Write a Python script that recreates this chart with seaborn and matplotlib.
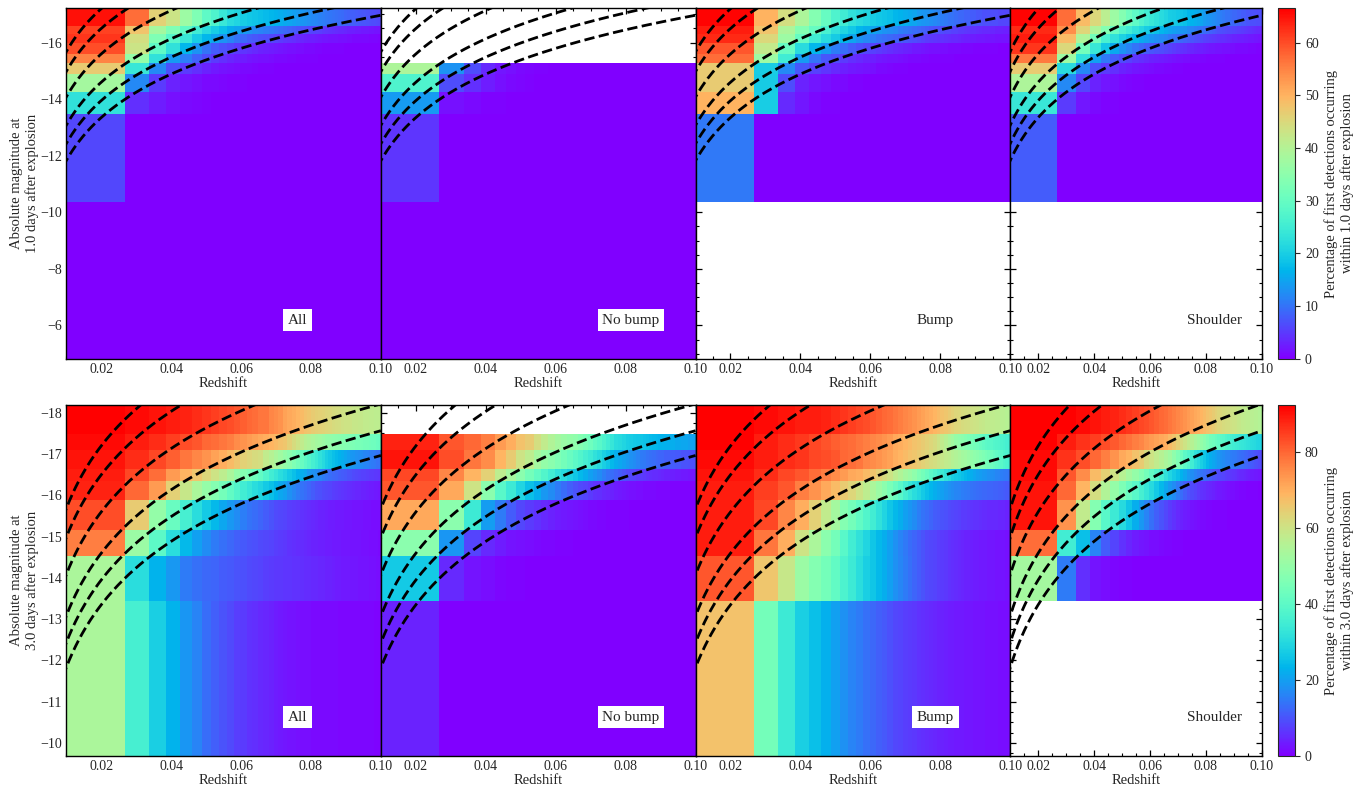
import numpy as np
import pandas as pd
import matplotlib
matplotlib.use("Agg")
import matplotlib.pyplot as plt
import matplotlib.transforms as mtransforms
from matplotlib.ticker import MultipleLocator, FormatStrFormatter
import seaborn as sns

# ---------------------------------------------------------------- data
PANEL_NAMES = ["All", "No bump", "Bump", "Shoulder"]
EPOCHS = [1.0, 3.0]
N_ZBINS = 50            # redshift bins of equal comoving volume, 0 < z < 0.1
Z_MAX = 0.1
LIMIT_MAGS = [17.5, 18.2, 19.1, 20.1, 20.75, 21.35]   # dashed lines (apparent mag)
VMAX = [66.5, 92.3]

# magnitude bin edges (bright -> faint)
MAG_EDGES_1D = [-17.21, -16.58, -16.29, -15.99, -15.61, -15.28, -14.88, -14.25, -13.46, -10.37, -4.82]
MAG_EDGES_3D = [-18.18, -17.49, -17.10, -16.64, -16.34, -15.88, -15.15, -14.54, -13.43, -9.69]

# percentages per magnitude row (bright -> faint), per redshift bin; missing tail = 0, None = no data
TOP_ALL = [
    [65,57,46,43,37,33,29,27,24,22, 21,20,19,18.5,18, 17.5,17,16.5,16,15.5, 15,14.5,14,13.5,13, 12.6,12.2,11.8,11.4,11, 10.6,10.3,10,9.7,9.4, 9.1,8.8,8.5,8.3,8.1, 7.9,7.7,7.5,7.3,7.1, 6.9,6.7,6.5,6.3,6.1],
    [61,48,38,33,29,25,22,20,18,16, 15,14,13,12,11.5, 11,10.5,10,9.5,9, 8.5,8,7.5,7,6.6, 6.2,5.8,5.5,5.2,4.9, 4.6,4.3,4,3.8,3.6, 3.4,3.2,3,2.8,2.6, 2.5,2.4,2.3,2.2,2.1, 2,1.9,1.8,1.7,1.6],
    [62,44,33,28,24,20,17,15,13,11.5, 10,9,8,7.5,7, 6.5,6,5.5,5,4.6, 4.2,3.9,3.6,3.3,3, 2.8,2.6,2.4,2.2,2, 1.9,1.8,1.7,1.6,1.5, 1.4,1.3,1.2,1.1,1, 1,0.9,0.9,0.8,0.8, 0.7,0.7,0.6,0.6,0.5],
    [60,43,29,23,17,13,10,8,7,6, 5,4.5,4,3.5,3, 2.7,2.4,2.1,1.9,1.7, 1.5,1.3,1.2,1.1,1, 0.9,0.8,0.7,0.6,0.5, 0.5,0.4,0.4,0.3,0.3, 0.3,0.2,0.2,0.2,0.2],
    [55,36,23,14,11,8.5,6.5,5,4,3.3, 2.8,2.4,2,1.7,1.5, 1.3,1.1,1,0.9,0.8, 0.7,0.6,0.5,0.5,0.4, 0.4,0.3,0.3,0.2,0.2],
    [47,24,12,7,5,4,3,2.3,1.8,1.5, 1.2,1,0.8,0.6,0.5, 0.4,0.3,0.2],
    [38,12,5,3,2,1.5,1,0.8,0.6,0.5, 0.4,0.3,0.2],
    [23,4,2.5,1.5,1,0.6,0.4,0.2],
    [6],
    [0],
]
TOP_NOBUMP = [
    None, None, None, None, None,
    [39,13,6.5,3.5,2,1.5,1,0.7,0.5,0.3],
    [27,6.5,4,2.5,1.5,1,0.6,0.4],
    [14,1.5,1,0.5,0.3],
    [4.5],
    [0],
]
TOP_BUMP = [
    [66,50,44,39,34,30,27,25,23,22, 21,20,19,18.5,18, 17,16.5,16,15.5,15, 14,13.5,13,12.5,12, 11.5,11,10.5,10,10, 9.5,9,9,8.5,8.5, 8,8,7.5,7.5,7, 7,7,6.5,6.5,6.5, 6,6,6,6,6],
    [64,48,39,34,30,26,23,21,19,17, 16,15,14,13,12.5, 12,11,10.5,10,9.5, 9,8.5,8,7.5,7, 7,6.5,6,6,5.5, 5.5,5,5,4.8,4.6, 4.4,4.2,4,3.8,3.6, 3.5,3.4,3.3,3.2,3.1, 3,2.9,2.8,2.7,2.6],
    [63,45,37,30,25,22,19.5,17,15,13, 12,11,10,9.5,9, 8.5,8,7.5,7,6.5, 6,5.5,5,4.8,4.6, 4.4,4.2,4,3.8,3.6, 3.4,3.2,3,2.8,2.6, 2.5,2.4,2.3,2.2,2.1, 2,2,1.9,1.9,1.8, 1.8,1.7,1.7,1.6,1.6],
    [59,42,30,22,17,14,11,9.5,8,7, 6,5.5,5,4.5,4, 3.6,3.2,2.9,2.6,2.3, 2.1,1.9,1.7,1.5,1.4, 1.3,1.2,1.1,1,0.9, 0.8,0.8,0.7,0.7,0.6, 0.6,0.5,0.5,0.4,0.4, 0.4,0.3,0.3,0.3,0.3],
    [57,37,25,14,10,7.5,6.5,5,4,3.5, 3,2.6,2.3,2,1.8, 1.6,1.4,1.2,1,0.9, 0.8,0.7,0.6,0.5,0.5, 0.4,0.4,0.3,0.3,0.3],
    [47,20,12,7.5,5.5,4.5,3.5,2.8,2.3,2, 1.6,1.3,1,0.8,0.6, 0.5,0.4,0.3],
    [47,19.5,6.5,3,2,1.5,1,0.8,0.5,0.3],
    [50,20,3.5,2,1,0.5,0.3],
    [10.5],
    None,
]
TOP_SHOULDER = [
    [66,57,49,45,41,37,34,31,29,27, 25,24,23,22,21, 20,19.5,19,18.5,18, 17,16.5,16,15.5,15, 14,13.5,13,12.5,12, 11.5,11,10.5,10,10, 9.5,9,9,8.5,8.5, 8,8,7.5,7.5,7, 7,7,6.5,6.5,6.5],
    [63,54,45.5,39,34,30,27,25,23,21.5, 20,19,18,17,16, 15,14.5,14,13.5,13, 12,11.5,11,10.5,10, 9.5,9,8.5,8,7.5, 7,6.8,6.6,6.4,6.2, 6,5.8,5.6,5.4,5.2, 5,4.8,4.6,4.4,4.2, 4,3.8,3.6,3.4,3.2],
    [64,49,39,31.5,26,23,20.5,18.5,17,15.5, 14.5,13.5,12.5,12,11.5, 10.5,10,9.5,9,8.5, 8,7.5,7,6.5,6, 5.7,5.4,5.1,4.8,4.5, 4.3,4.1,3.9,3.7,3.5, 3.3,3.1,2.9,2.8,2.7, 2.6,2.5,2.4,2.3,2.2, 2.1,2,1.9,1.8,1.7],
    [62,45,31.5,24,19,15.5,13,11.5,10,9, 8,7.5,7,6.5,6, 5.5,5,4.5,4.2,3.9, 3.6,3.3,3,2.8,2.6, 2.4,2.2,2,1.9,1.8, 1.7,1.6,1.5,1.4,1.3, 1.2,1.1,1,1,0.9, 0.9,0.8,0.8,0.7,0.7, 0.6,0.6,0.5,0.5,0.5],
    [56,37,23,14.5,10.5,8,6.5,5.5,4.5,4, 3.5,3,2.7,2.4,2.1, 1.9,1.7,1.5,1.3,1.2, 1.1,1,0.9,0.8,0.7, 0.6,0.5,0.5,0.4,0.4, 0.3,0.3,0.3,0.2,0.2],
    [47,22,12,7,5,4,3,2.5,2,1.7, 1.4,1.2,1,0.8,0.7, 0.6,0.5,0.4,0.3,0.2],
    [39,12,6,3,2,1.5,1,0.7,0.5,0.3],
    [24,5,2,1,0.5,0.3],
    [8],
    None,
]

BOT_ALL = [
    [92,91,90,89,88,87,86,85,84,83, 82,81,80,79,78, 78,76,75,74,72, 71,70,69,68,67, 66,65,64.5,64,63.5, 63,62.5,62,61.5,61, 60.5,60,60,59.5,59, 59,58.5,58.5,58,58, 57.5,57.5,57,57,57],
    [91,89,87,85,83,82,80,79,78,77, 75,74,73,72,71, 70,69,68,67,66, 64,62,60,58,56, 55,54,53,52,51, 50,49.5,49,48.5,48, 47.5,47,46.5,46,45.5, 45,45,44.5,44,44, 43.5,43,43,42.5,42],
    [90,87,84,81,78,76,74,72,70,68, 66,64,63,62,61, 58,56,54,52,50, 48,46,44,42,40, 38,36,34,32,30, 28,26.5,25,24,23, 22,21,20,19,18.5, 18,17.5,17,16.5,16, 15.5,15,14.5,14,14],
    [89,84,79,73,69,66,63,60,57,54, 50,47,45,43,41, 38,35,33,31,29, 27,25,23,22,21, 19,18,17,16,15, 14,13,12.5,12,11.5, 11,10.5,10,9.5,9, 8.5,8,7.8,7.6,7.4, 7.2,7,6.8,6.6,6.4],
    [88,80,73,64,59,54,50,47,44,41, 38,35,33,31,29, 27,25,23,21,20, 18,16.5,15,14,13, 12,11,10,9.5,9, 8.5,8,7.5,7,6.6, 6.2,5.8,5.5,5.2,4.9, 4.6,4.4,4.2,4,3.8, 3.6,3.4,3.2,3,2.8],
    [83,65,50,42,36,31,27,24,21,19, 17,15.5,14,13,12, 11,10,9,8.5,8, 7.5,7,6.5,6,5.5, 5.2,4.9,4.6,4.3,4, 3.8,3.6,3.4,3.2,3, 2.9,2.8,2.7,2.6,2.5, 2.4,2.3,2.2,2.1,2, 1.9,1.8,1.7,1.6,1.5],
    [77,51,40,31,24,20,17,15,13.5,12.5, 11.5,10.5,10,9.5,9, 8.5,8,7.5,7,6.5, 6,5.7,5.4,5.1,4.8, 4.5,4.3,4.1,3.9,3.7, 3.5,3.3,3.1,3,2.9, 2.8,2.7,2.6,2.5,2.4, 2.3,2.2,2.1,2,1.9, 1.8,1.7,1.6,1.5,1.4],
    [54,31,23,19,15,13.5,12.5,12,11,10.5, 10,9.5,9,8.5,8, 7.5,7,6.8,6.6,6.4, 6.2,6,5.8,5.6,5.4, 5.2,5,4.8,4.6,4.4, 4.2,4,3.8,3.6,3.4, 3.2,3,2.9,2.8,2.7, 2.6,2.5,2.4,2.3,2.2, 2.1,2,1.9,1.8,1.7],
    [54,36,28,23,18.5,16,13,11.5,10,9, 7.5,7,6,5.5,5, 4.5,4,3.5,3,2.7, 2.4,2.2,2,1.8,1.6, 1.5,1.4,1.4,1.3,1.3, 1.2,1.2,1.1,1.1,1, 1,1,0.9,0.9,0.9, 0.9,0.8,0.8,0.8,0.8, 0.8,0.8,0.7,0.7,0.7],
]
BOT_NOBUMP = [
    None,
    [88,82,80,77,73,70,67,65,61,58, 55,53,51,50,49, 47,45,43,41,39, 37,35,33,31,30, 29,28,27.5,27,26.5, 26,25.5,25,24.5,24, 23.5,23,23,22.5,22.5, 22,22,21.5,21.5,21, 21,21,20.5,20.5,20],
    [90,83,78,75,69,65,60,57,53,50, 48,46,44,42,40, 38,36,34,32,30, 28,26,24,22,21, 20,19,18,17,16, 15,14.5,14,13.5,13, 12.5,12,12,11.5,11.5, 11,11,10.5,10.5,10, 10,10,9.5,9.5,9.5],
    [84,76,69,64,57,53,48,44,41,38, 35,32,30,28,26, 24,22,20,18.5,17, 15.5,14,13,12,11, 10,9,8.5,8,7.5, 7,6.5,6,5.7,5.4, 5.1,4.8,4.5,4.3,4.1, 3.9,3.7,3.5,3.3,3.1, 3,2.9,2.8,2.7,2.6],
    [82,71,60,48,39,34,29,25,22,19, 17,15,13,11.5,10, 9,8,7,6,5.5, 5,4.5,4,3.5,3, 2.7,2.4,2.1,1.9,1.7, 1.5,1.4,1.3,1.2,1.1, 1,0.9,0.9,0.8,0.8, 0.7,0.7,0.6,0.6,0.6, 0.5,0.5,0.5,0.5,0.5],
    [71,48,34,19.5,15,11,8.5,7,6,5, 4.2,3.6,3,2.6,2.2, 1.9,1.6,1.4,1.2,1, 0.8,0.7,0.6,0.5,0.5, 0.4,0.4,0.3,0.3,0.3],
    [48,18.5,8,5,3.5,2.5,2,1.5,1.2,1, 0.8,0.6,0.5,0.4,0.3],
    [27,5,2.5,1.5,1,0.7,0.5,0.3],
    [4],
]
BOT_BUMP = [
    [92,91,90,89,89,88,87,86,85,84, 83,82,81,80,79, 78,77,76,75,74, 73,72,71,70,69, 68,67,66,65,64, 63,62.5,62,61.5,61, 60.5,60,59.5,59,58.5, 58,58,57.5,57.5,57, 57,56.5,56.5,56,56],
    [92,89,87,85.5,84,82.5,81,80,79,78, 77,76,75,74,73, 71,70,69,68,67, 66,65,64,63,62, 60,58,56,54,52, 50,49,48,47,46, 45,44,43,42,41, 40,39.5,39,38.5,38, 37.5,37,36.5,36,35.5],
    [91,89,87,86,84,83,82,80,79,78, 76,75,74,73,72, 70,69,68,67,66, 65,64,63,62,61, 60,59,58,57,56, 55,54,53,52,51, 50,49,48,47,46, 45,44,43,42,41, 40,39,38,37,36],
    [90,87,84,82,79,77,75,73,71,70, 68,66,64,62,60, 57,55,53,51,49, 46,44,42,40,38, 36,34,32,30,28, 27,26,25,24,23, 22,21,20,19.5,19, 18.5,18,17.5,17,16.5, 16,15.5,15,14.5,14],
    [89,85,82,77,74,71,68,65,63,60, 57,54,51,48,45, 42,39,36,33,31, 29,27,25,23.5,22, 21,20,19,18,17, 16.5,16,15.5,15,14.5, 14,13.5,13,12.8,12.6, 12.4,12.2,12,11.8,11.6, 11.4,11.2,11,10.8,10.6],
    [89,84,76,70,64,58,53,47,44,41, 38,35,32,29,26, 24,22,20,18.5,17, 15.5,14,13,12,11, 10.5,10,9.5,9,8.5, 8,7.6,7.2,6.9,6.6, 6.3,6,5.8,5.6,5.4, 5.2,5,4.9,4.8,4.7, 4.6,4.5,4.4,4.3,4.2],
    [89,78,70,60,54,48,44,39,35,32, 29,26,24,22,20, 18,16,14.5,13,12, 11,10,9,8.5,8, 7.5,7,6.5,6,5.6, 5.2,4.9,4.6,4.3,4, 3.8,3.6,3.4,3.2,3, 2.9,2.8,2.7,2.6,2.5, 2.4,2.3,2.2,2.1,2],
    [82,66,59,51,47,44,41,37,34,31, 28,26,24,22,20, 18,16.5,15,13.5,12, 11,10,9,8.5,8, 7.5,7,6.5,6,5.6, 5.2,4.9,4.6,4.3,4, 3.8,3.6,3.4,3.2,3, 2.9,2.8,2.7,2.6,2.5, 2.4,2.3,2.2,2.1,2],
    [67,44,34,28,25,22.5,20,18,16,15, 13.5,12.5,11.5,10.5,9.5, 8.5,8,7.5,7,6.5, 6,5.6,5.2,4.9,4.6, 4.3,4,3.8,3.6,3.4, 3.2,3,2.9,2.8,2.7, 2.6,2.5,2.4,2.3,2.2, 2.1,2,2,1.9,1.9, 1.8,1.8,1.7,1.7,1.6],
]
BOT_SHOULDER = [
    [92,92,91,90,89,88,87,86,85,84, 83,82,81,80,79, 78,77,76,75,74, 73,72,71,70,69, 68,67,66,65,64, 63,62.5,62,61.5,61, 60.5,60,59.5,59,58.5, 58,57.5,57,57,56.5, 56.5,56,56,55.5,55],
    [92,89,86.5,85,83,81.5,80,78.5,77,76, 74,73,72,71,70, 68,66,64,62,60, 58,56,54,52,50, 48,46,44,43,42, 41,40,39,38,37, 36,35,34.5,34,33.5, 33,32.5,32,31.5,31, 30.5,30,29.5,29,28.5],
    [91,86.5,83,80,77,74,71,69.5,67,65, 62,60,58,56,54, 52,49,46,43,40, 38,35,32,30,28, 26,24,22,21,20, 19,18,17,16.5,16, 15.5,15,14.5,14,13.5, 13,12.5,12,11.5,11, 10.5,10,9.5,9,8.5],
    [91,82,75,68,64.5,60,56,53,50,47, 44,41,38,35,32, 29,27,25,23,21, 19,17.5,16,15,14, 13,12,11,10,9.5, 9,8.5,8,7.5,7, 6.6,6.2,5.8,5.4,5, 4.7,4.4,4.1,3.8,3.5, 3.3,3.1,2.9,2.7,2.5],
    [90,80,69,61,55,50,45.5,42,39,36, 33,30,27,24,21, 19,17,15,13,11.5, 10,9,8,7,6, 5.5,5,4.5,4,3.6, 3.2,2.9,2.6,2.3,2, 1.8,1.6,1.4,1.2,1, 0.9,0.8,0.7,0.6,0.5, 0.5,0.4,0.4,0.3,0.3],
    [90,74,58,47,39,34,30,26,22,19, 16,13.5,11.5,10,8.5, 7,6,5,4.2,3.5, 3,2.5,2,1.7,1.4, 1.2,1,0.8,0.7,0.6, 0.5,0.5,0.4,0.4,0.3, 0.3,0.3,0.2,0.2,0.2],
    [79,35,25,16,11,8,6,4.5,3.5,2.7, 2.2,1.8,1.5,1.2,1, 0.8,0.6,0.5,0.4,0.3],
    [53,15,5.5,2.5,1.5,1,0.7,0.5,0.3],
    None,
]

PANELS = [[TOP_ALL, TOP_NOBUMP, TOP_BUMP, TOP_SHOULDER],
          [BOT_ALL, BOT_NOBUMP, BOT_BUMP, BOT_SHOULDER]]
MAG_EDGES = [MAG_EDGES_1D, MAG_EDGES_3D]

# ---------------------------------------------------------------- cosmology helpers
H0, OM, C_KMS = 70.0, 0.3, 299792.458
_zg = np.linspace(0.0, 0.12, 6001)
_inv_e = 1.0 / np.sqrt(OM * (1 + _zg) ** 3 + 1 - OM)
_dc = C_KMS / H0 * np.concatenate([[0.0], np.cumsum(0.5 * (_inv_e[1:] + _inv_e[:-1]) * np.diff(_zg))])


def dist_mod(z):
    dc = np.interp(z, _zg, _dc)
    return 5 * np.log10((1 + z) * dc * 1e6 / 10.0)


# redshift bin edges: equal comoving volume
_vmax = np.interp(Z_MAX, _zg, _dc) ** 3
_targets = np.linspace(0, _vmax, N_ZBINS + 1)
Z_EDGES = np.interp(_targets, _dc ** 3, _zg)


def panel_grid(rows):
    out = np.full((len(rows), N_ZBINS), np.nan)
    for i, r in enumerate(rows):
        if r is None:
            continue
        vals = np.zeros(N_ZBINS)
        vals[:len(r)] = r
        out[i] = vals
    return np.ma.masked_invalid(out)


# ---------------------------------------------------------------- figure
sns.set_style("ticks")
plt.rcParams["font.family"] = ["Liberation Serif", "DejaVu Serif"]
plt.rcParams["mathtext.fontset"] = "stix"

fig, axes = plt.subplots(2, 4, figsize=(13.63, 7.94), dpi=100, sharey="row")
fig.subplots_adjust(left=0.0486, right=0.972, top=0.9895, bottom=0.0482, wspace=0.0, hspace=0.133)

cmap = plt.get_cmap("rainbow").copy()
cmap.set_bad("white", 0.0)

z_line = np.linspace(0.009, 0.1, 300)
line_df = pd.DataFrame({
    "z": np.tile(z_line, len(LIMIT_MAGS)),
    "M": np.concatenate([m - dist_mod(z_line) for m in LIMIT_MAGS]),
    "limit": np.repeat(LIMIT_MAGS, len(z_line)),
})

for r in range(2):
    mesh = None
    for c in range(4):
        ax = axes[r, c]
        grid = panel_grid(PANELS[r][c])
        mesh = ax.pcolormesh(Z_EDGES, MAG_EDGES[r], grid, cmap=cmap, vmin=0, vmax=VMAX[r],
                             shading="flat", edgecolors="none", antialiased=False)
        sns.lineplot(data=line_df, x="z", y="M", units="limit", estimator=None, color="black",
                     linestyle="--", linewidth=2.0, legend=False, ax=ax, zorder=3)
        ax.set_xlim(0.01, Z_MAX)
        ax.set_ylim(MAG_EDGES[r][-1], MAG_EDGES[r][0])
        ax.xaxis.set_major_locator(MultipleLocator(0.02))
        ax.xaxis.set_minor_locator(MultipleLocator(0.005))
        ax.xaxis.set_major_formatter(FormatStrFormatter("%.2f"))
        if r == 0:
            ax.yaxis.set_major_locator(MultipleLocator(2))
            ax.yaxis.set_minor_locator(MultipleLocator(0.5))
        else:
            ax.yaxis.set_major_locator(MultipleLocator(1))
            ax.yaxis.set_minor_locator(MultipleLocator(0.25))
        ax.tick_params(which="both", direction="in", top=True, right=True, labelsize=10, color="black")
        ax.tick_params(which="major", length=4, width=0.9, pad=3)
        ax.tick_params(which="minor", length=2.2, width=0.8)
        for sp in ax.spines.values():
            sp.set_color("black")
            sp.set_linewidth(1.0)
        ax.set_xlabel("Redshift", fontsize=10.5, labelpad=1)
        if c == 0:
            ax.set_ylabel(f"Absolute magnitude at\n{EPOCHS[r]:.1f} days after explosion", fontsize=10.5,
                          labelpad=1)
        else:
            ax.set_ylabel("")
            ax.tick_params(labelleft=False)
        trans = mtransforms.blended_transform_factory(ax.transData, ax.transAxes)
        ax.text(0.0733, 0.11, PANEL_NAMES[c], transform=trans, ha="left", va="center", fontsize=11,
                zorder=5, bbox=dict(boxstyle="square,pad=0.3", facecolor="white", edgecolor="none"))
    cbar = fig.colorbar(mesh, ax=axes[r, 3])
    cbar.set_label(f"Percentage of first detections occurring\nwithin {EPOCHS[r]:.1f} days after explosion",
                   fontsize=10.5)
    cbar.ax.tick_params(labelsize=10)

fig.savefig("out.png", dpi=100)
